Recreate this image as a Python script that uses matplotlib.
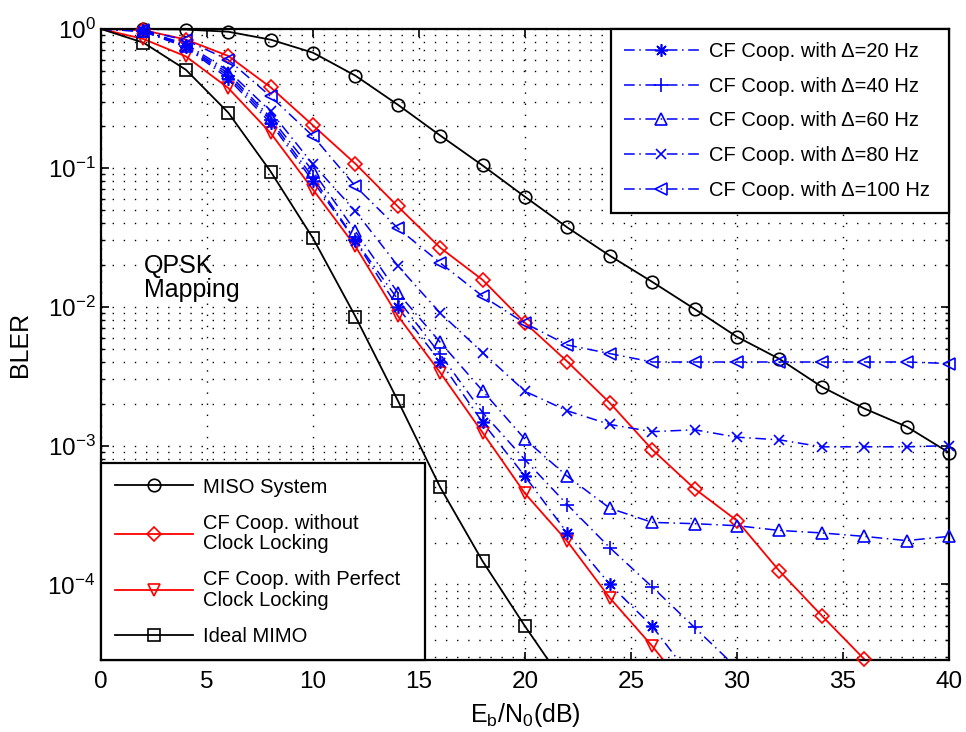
import numpy as np
import matplotlib
matplotlib.use("Agg")
import matplotlib.pyplot as plt
from matplotlib.lines import Line2D
from matplotlib.ticker import LogLocator, NullFormatter, MultipleLocator

plt.rcParams['font.family'] = ['Liberation Sans', 'DejaVu Sans']
plt.rcParams['mathtext.default'] = 'regular'

# Eb/N0 grid (dB)
snr = np.arange(0, 42, 2)

# BLER values
miso = [1.0, 1.0, 0.99, 0.956, 0.838, 0.675, 0.461, 0.285, 0.171, 0.104, 0.0619,
        0.0372, 0.0233, 0.0151, 0.00963, 0.00607, 0.00421, 0.00265, 0.00185, 0.00137, 0.00089]
no_lock = [1.0, 0.98, 0.84, 0.64, 0.38, 0.202, 0.107, 0.0527, 0.0266, 0.0156, 0.00765,
           0.00402, 0.00203, 0.000936, 0.000489, 0.000288, 0.000125, 5.96e-5, 2.9e-5]
perfect_lock = [1.0, 0.847, 0.635, 0.376, 0.178, 0.0697, 0.0272, 0.0086, 0.00335, 0.00124,
                0.000452, 0.000204, 8.0e-5, 3.6e-5, 1.5e-5]
mimo = [1.0, 0.797, 0.509, 0.25, 0.0941, 0.0311, 0.0085, 0.00211, 0.000501, 0.000147, 5.0e-5, 1.8e-5]

d20 = [1.0, 0.96, 0.74, 0.44, 0.21, 0.080, 0.0298, 0.0099, 0.00403, 0.00147, 0.0006,
       0.000234, 0.0001, 5.0e-5, 2.0e-5]
d40 = [1.0, 0.96, 0.75, 0.46, 0.22, 0.085, 0.030, 0.0113, 0.00454, 0.00173, 0.00079,
       0.000375, 0.000184, 9.6e-5, 4.9e-5, 2.5e-5]
d60 = [1.0, 0.97, 0.76, 0.48, 0.23, 0.0944, 0.0349, 0.0126, 0.00555, 0.00248, 0.00111,
       0.0006, 0.000354, 0.00028, 0.000274, 0.000265, 0.000245, 0.000235, 0.000222, 0.000207, 0.000222]
d80 = [1.0, 0.97, 0.78, 0.50, 0.255, 0.106, 0.0487, 0.0197, 0.0090, 0.00468, 0.00246,
       0.00178, 0.00142, 0.00126, 0.0013, 0.00115, 0.0011, 0.00098, 0.00098, 0.00098, 0.001]
d100 = [1.0, 0.98, 0.83, 0.60, 0.327, 0.169, 0.0737, 0.0368, 0.0207, 0.0119, 0.0076,
        0.0053, 0.0046, 0.004, 0.004, 0.004, 0.004, 0.004, 0.004, 0.004, 0.0039]

# trailing spaces only widen the legend boxes a little, like the original
labels_left = ["MISO System", "CF Coop. without\nClock Locking",
               "CF Coop. with Perfect  \nClock Locking", "Ideal MIMO"]
labels_right = ["CF Coop. with \u0394=20 Hz", "CF Coop. with \u0394=40 Hz",
                "CF Coop. with \u0394=60 Hz", "CF Coop. with \u0394=80 Hz",
                "CF Coop. with \u0394=100 Hz "]

ymin, ymax = 2.86e-5, 1.0
dashdot = (0, (7, 3, 1, 3))

fig = plt.figure(figsize=(9.66, 7.32), dpi=100)
ax = fig.add_axes([0.1046, 0.0984, 0.8778, 0.862])


def curve(y, color, marker, ls, lw, ms):
    y = np.asarray(y)
    x = snr[:len(y)]
    ax.plot(x, y, color=color, ls=ls, lw=lw, zorder=2)
    keep = (x > 0) & (y >= ymin * 0.999)
    ax.plot(x[keep], y[keep], ls='none', marker=marker, ms=ms, mfc='none',
            mec=color, mew=1.2, clip_on=False, zorder=3)
    return Line2D([], [], color=color, ls=ls, lw=lw, marker=marker, ms=ms,
                  mfc='none', mec=color, mew=1.2)


asterisk = (8, 2, 0)
h_left = [
    curve(miso, 'black', 'o', '-', 1.3, 9),
    curve(no_lock, 'red', 'D', '-', 1.3, 7),
    curve(perfect_lock, 'red', 'v', '-', 1.3, 9),
    curve(mimo, 'black', 's', '-', 1.3, 9),
]
h_right = [
    curve(d20, 'blue', asterisk, dashdot, 1.1, 9),
    curve(d40, 'blue', '+', dashdot, 1.1, 10),
    curve(d60, 'blue', '^', dashdot, 1.1, 9),
    curve(d80, 'blue', 'x', dashdot, 1.1, 7),
    curve(d100, 'blue', '<', dashdot, 1.1, 9),
]

ax.set_yscale('log')
ax.set_xlim(0, 40)
ax.set_ylim(ymin, ymax)
ax.xaxis.set_major_locator(MultipleLocator(5))
ax.yaxis.set_major_locator(LogLocator(base=10, numticks=10))
ax.yaxis.set_minor_locator(LogLocator(base=10, subs=np.arange(2, 10), numticks=10))
ax.yaxis.set_minor_formatter(NullFormatter())

dots = (0, (1, 7))
ax.grid(which='major', axis='both', color='black', ls=dots, lw=1.0)
ax.grid(which='minor', axis='y', color='black', ls=dots, lw=1.0)
ax.set_axisbelow(True)

ax.tick_params(which='both', direction='in', top=True, right=True, labelsize=17.5)
ax.tick_params(which='major', length=6, width=1.2)
ax.tick_params(which='minor', length=3, width=1.0)
ax.tick_params(axis='x', which='major', pad=8)
ax.tick_params(axis='y', which='major', pad=4)
for s in ax.spines.values():
    s.set_linewidth(1.6)

ax.set_xlabel('E$_b$/N$_0$(dB)', fontsize=18, labelpad=6)
ax.set_ylabel('BLER', fontsize=18, labelpad=11)

ax.text(0.0507, 0.605, 'QPSK\nMapping', transform=ax.transAxes, fontsize=18,
        ha='left', va='center', linespacing=1.0)

leg1 = ax.legend(h_left, labels_left, loc='lower left', bbox_to_anchor=(0, 0),
                 borderaxespad=0, fontsize=14.5, handlelength=3.85, handletextpad=0.5,
                 labelspacing=0.85, borderpad=0.7, fancybox=False, framealpha=1,
                 edgecolor='black')
leg1.get_frame().set_linewidth(1.6)
for t in leg1.get_texts():
    t.set_linespacing(1.1)
ax.add_artist(leg1)

leg2 = ax.legend(h_right, labels_right, loc='upper right', bbox_to_anchor=(1, 1),
                 borderaxespad=0, fontsize=14.5, handlelength=3.75, handletextpad=0.5,
                 labelspacing=0.78, borderpad=0.65, fancybox=False, framealpha=1,
                 edgecolor='black')
leg2.get_frame().set_linewidth(1.6)

fig.savefig('out.png', dpi=100, facecolor='white')
